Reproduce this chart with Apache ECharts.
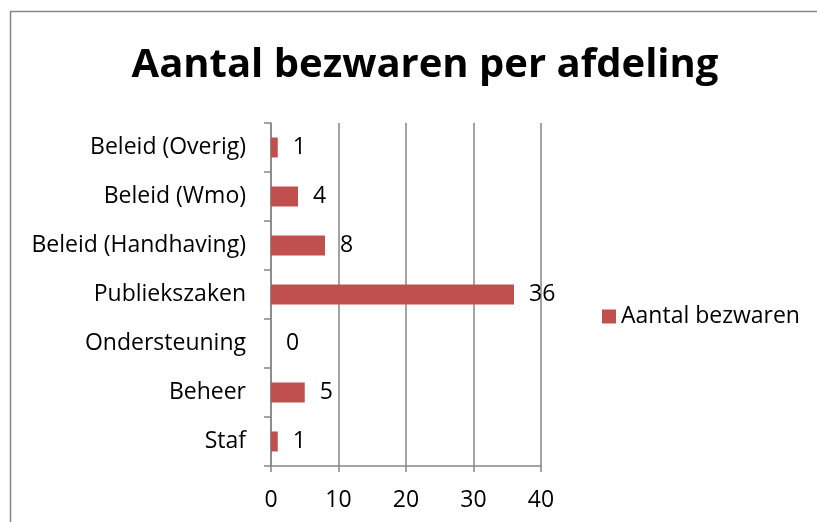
<!DOCTYPE html>
<html><head><meta charset="utf-8">
<script src="https://cdn.jsdelivr.net/npm/echarts@6/dist/echarts.min.js"></script>
<style>html,body{margin:0;padding:0;background:#fff}#c{width:817px;height:522px}</style>
</head><body><div id="c"></div>
<script>
const categories = ['Staf','Beheer','Ondersteuning','Publiekszaken','Beleid (Handhaving)','Beleid (Wmo)','Beleid (Overig)'];
const values = [1,5,0,36,8,4,1];
const seriesName = 'Aantal bezwaren';
const xTicks = [0,10,20,30,40];
const font = '"Open Sans", Lato, sans-serif';
const chart = echarts.init(document.getElementById('c'), null, {renderer:'canvas'});
chart.setOption({
  animation:false,
  backgroundColor:'#fff',
  graphic:[{type:'rect',shape:{x:10.5,y:11.5,width:900,height:600},style:{fill:'none',stroke:'#868686',lineWidth:1.5},silent:true}],
  title:{text:'Aantal bezwaren per afdeling',left:420,textAlign:'center',top:41,
    textStyle:{fontFamily:'"Open Sans", Lato, sans-serif',fontWeight:'bold',fontSize:40,color:'#000'}},
  legend:{data:[seriesName],left:597,top:300,itemWidth:14,itemHeight:14,itemGap:6,icon:'rect',
    textStyle:{fontFamily:font,fontSize:23,color:'#000'}},
  grid:{left:271,right:276,top:123,bottom:56,containLabel:false},
  xAxis:{type:'value',min:xTicks[0],max:xTicks[xTicks.length-1],interval:10,
    axisLine:{show:true,lineStyle:{color:'#868686',width:1.5}},
    axisTick:{show:true,length:6,lineStyle:{color:'#868686',width:1.5}},
    splitLine:{show:true,lineStyle:{color:'#868686',width:1.5}},
    axisLabel:{fontFamily:font,fontSize:23,color:'#000',margin:23}},
  yAxis:{type:'category',data:categories,
    axisLine:{show:true,lineStyle:{color:'#868686',width:1.5}},
    axisTick:{show:true,length:7,lineStyle:{color:'#868686',width:1.5}},
    axisLabel:{fontFamily:font,fontSize:23,color:'#000',margin:25,padding:[8,0,0,0]}},
  series:[{name:seriesName,type:'bar',data:values,barWidth:20,
    itemStyle:{color:'#C0504D'},
    label:{show:true,position:'right',distance:15,fontFamily:font,fontSize:23,color:'#000',padding:[8,0,0,0]}}]
});
</script></body></html>
